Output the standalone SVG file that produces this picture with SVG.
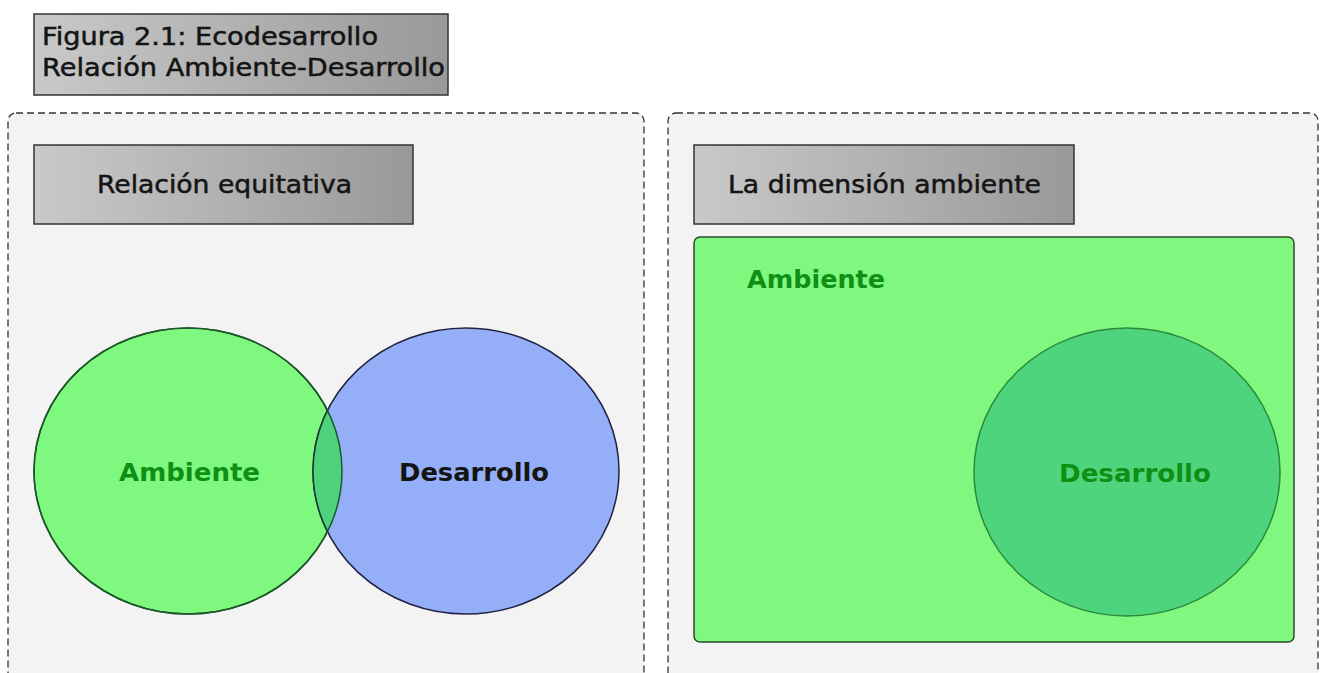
<svg xmlns="http://www.w3.org/2000/svg" width="1322" height="673" viewBox="0 0 1322 673">
<defs>
<linearGradient id="grey" x1="0" y1="0" x2="1" y2="0">
<stop offset="0" stop-color="#c9c9c9"/>
<stop offset="1" stop-color="#999999"/>
</linearGradient>
<clipPath id="clipAmb"><ellipse cx="188" cy="471" rx="154" ry="143"/></clipPath>
</defs>
<style>
.panel{fill:#f3f3f3;stroke:#333;stroke-width:1.3;stroke-dasharray:7 4}
.hdr{fill:url(#grey);stroke:#333;stroke-width:1.5}
.t{font-family:"DejaVu Sans",sans-serif;font-size:24px;stroke:#141414;stroke-width:0.5}
.b{font-family:"DejaVu Sans",sans-serif;font-size:24px;font-weight:bold}
.dark{fill:#141414}
.green{fill:#0f8f14}
</style>
<rect width="1322" height="673" fill="#ffffff"/>
<g id="title">
<rect x="34" y="14" width="414" height="81" class="hdr"/>
<text x="42" y="45" class="t dark" textLength="336" lengthAdjust="spacingAndGlyphs">Figura 2.1: Ecodesarrollo</text>
<text x="42" y="76" class="t dark" textLength="403" lengthAdjust="spacingAndGlyphs">Relación Ambiente-Desarrollo</text>
</g>
<g id="panel-left">
<rect x="8" y="113" width="636" height="580" rx="8" class="panel"/>
</g>
<g id="panel-right">
<rect x="668" y="113" width="650" height="580" rx="8" class="panel"/>
</g>
<g id="hdr-left">
<rect x="34" y="145" width="379" height="79" class="hdr"/>
<text x="97" y="193" class="t dark" textLength="255" lengthAdjust="spacingAndGlyphs">Relación equitativa</text>
</g>
<g id="hdr-right">
<rect x="694" y="145" width="380" height="79" class="hdr"/>
<text x="728" y="193" class="t dark" textLength="313" lengthAdjust="spacingAndGlyphs">La dimensión ambiente</text>
</g>
<g id="ambiente-circle">
<ellipse cx="188" cy="471" rx="154" ry="143" fill="#7ff87f" stroke="#224422" stroke-width="1.5"/>
</g>
<g id="desarrollo-circle">
<ellipse cx="466" cy="471" rx="153" ry="143" fill="#94aff8" stroke="#222244" stroke-width="1.5"/>
<ellipse cx="466" cy="471" rx="153" ry="143" fill="#4fd27e" stroke="none" clip-path="url(#clipAmb)"/>
<ellipse cx="188" cy="471" rx="154" ry="143" fill="none" stroke="#1a5a2a" stroke-width="1.5"/>
<ellipse cx="466" cy="471" rx="153" ry="143" fill="none" stroke="#1a3a2a" stroke-width="1.5" clip-path="url(#clipAmb)"/>
<text x="119" y="481" class="b green" textLength="141" lengthAdjust="spacingAndGlyphs">Ambiente</text>
<text x="399" y="481" class="b dark" textLength="150" lengthAdjust="spacingAndGlyphs">Desarrollo</text>
</g>
<g id="ambiente-rect">
<rect x="694" y="237" width="600" height="405" rx="6" fill="#80f880" stroke="#2a4a2a" stroke-width="1.5"/>
<text x="747" y="288" class="b green" textLength="138" lengthAdjust="spacingAndGlyphs">Ambiente</text>
</g>
<g id="desarrollo-inner">
<ellipse cx="1127" cy="472" rx="153" ry="144" fill="#4fd47e" stroke="#2a8a3a" stroke-width="1.5"/>
<text x="1059" y="482" class="b green" textLength="152" lengthAdjust="spacingAndGlyphs">Desarrollo</text>
</g>
<g id="connectors"></g>
</svg>
